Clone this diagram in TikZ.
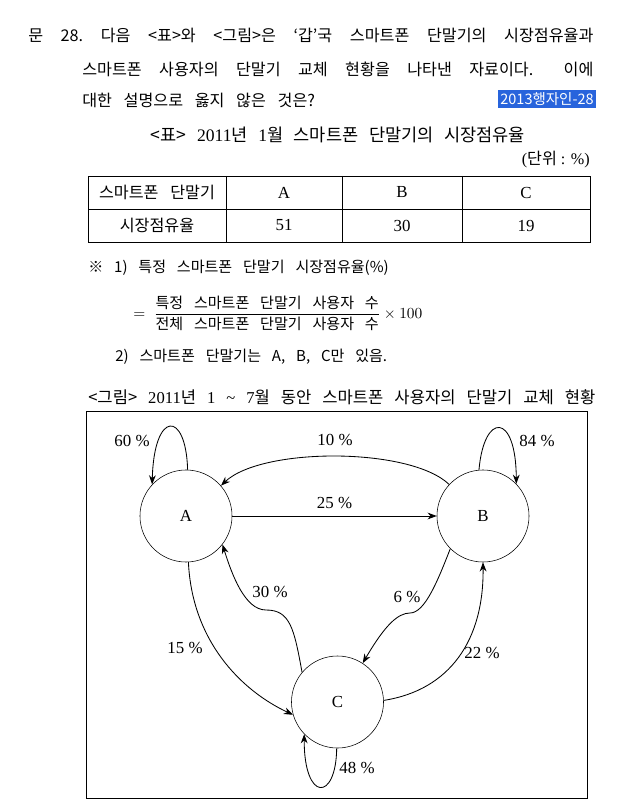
\documentclass[tikz,border=0pt]{standalone}
\usepackage{amsmath}
\usepackage{fontspec}
\setmainfont{Liberation Serif}
\newfontfamily\kr{Noto Sans CJK KR}
\usetikzlibrary{arrows.meta}
\definecolor{selblue}{RGB}{40,100,220}
\newcommand\widesp{\frenchspacing\spaceskip=0.72em plus 2em\relax}
\newcommand\midsp{\frenchspacing\spaceskip=0.5em plus 2em\relax}
\newcommand\ttlsp{\frenchspacing\spaceskip=0.6em plus 1em\relax}

\begin{document}
\begin{tikzpicture}[
  x=0.025cm, y=-0.025cm,
  >={Stealth[length=2.3mm, width=1.7mm]},
  qtext/.style={anchor=west, inner sep=0pt, font=\kr\fontsize{11.5}{13}\selectfont\widesp},
  note/.style={anchor=west, inner sep=0pt, font=\kr\fontsize{10.7}{13}\selectfont\widesp},
  ttl/.style={inner sep=0pt, font=\fontsize{11.8}{13}\selectfont\midsp},
  cell/.style={inner sep=0pt, font=\fontsize{12}{14}\selectfont},
  dev/.style={draw, circle, minimum size=2.3cm, inner sep=0pt, font=\fontsize{12}{14}\selectfont},
  pct/.style={inner sep=0pt, font=\fontsize{12}{14}\selectfont},
  flow/.style={->, line width=0.6pt},
]
\useasboundingbox (0,0) rectangle (624,800);
% question
\node[qtext] (q1) at (28,35) {\makebox[14.125cm][s]{문 28. 다음 <표>와 <그림>은 ‘갑’국 스마트폰 단말기의 시장점유율과}};
\node[qtext] (q2) at (82,69) {\makebox[12.775cm][s]{스마트폰 사용자의 단말기 교체 현황을 나타낸 자료이다.\hspace{0.8em} 이에}};
\node[qtext] (q3) at (82,100) {대한 설명으로 옳지 않은 것은?};
\node[fill=selblue, text=white, inner sep=0pt, minimum width=2.45cm, minimum height=0.43cm,
      font=\kr\fontsize{10.3}{12}\selectfont] (tag) at (547,99) {2013행자인-28};
% table
\node[ttl, font=\fontsize{12.5}{14}\selectfont\ttlsp] (ttab) at (338,135)
  {{\kr <표>} 2011{\kr 년} 1{\kr 월 스마트폰 단말기의 시장점유율}};
\node[ttl, font=\fontsize{11.5}{13}\selectfont, anchor=east] (unit) at (590,160) {({\kr 단위} : \%)};
\draw[line width=0.6pt] (88,176) rectangle (590,242);
\draw[line width=0.6pt] (88,209) -- (590,209);
\foreach \x in {226,342,462}
  \draw[line width=0.6pt] (\x,176) -- (\x,242);
\node[cell, font=\kr\fontsize{11.5}{13}\selectfont\widesp] (h0) at (157,192.5) {스마트폰 단말기};
\node[cell] (hA) at (284,192.5) {A};
\node[cell] (hB) at (402,192.5) {B};
\node[cell] (hC) at (526,192.5) {C};
\node[cell, font=\kr\fontsize{11.5}{13}\selectfont] (r0) at (157,225.5) {시장점유율};
\node[cell] (rA) at (284,225.5) {51};
\node[cell] (rB) at (402,225.5) {30};
\node[cell] (rC) at (526,225.5) {19};
% notes
\node[note] (n1) at (88,268) {※ 1) 특정 스마트폰 단말기 시장점유율(\%)};
\node[note] (n2) at (133,313)
  {$=\;\dfrac{\mbox{\kr\fontsize{10.7}{13}\selectfont\widesp 특정 스마트폰 단말기 사용자 수}}{\mbox{\kr\fontsize{10.7}{13}\selectfont\widesp 전체 스마트폰 단말기 사용자 수}}\times 100$};
\node[note] (n3) at (115,357) {2) 스마트폰 단말기는 A, B, C만 있음.};
\node[ttl, anchor=west] (tfig) at (88,397) {\makebox[12.675cm][s]{{\kr <그림>} 2011{\kr 년} 1 \textasciitilde{} 7{\kr 월 동안 스마트폰 사용자의 단말기 교체 현황}}};
% figure frame
\draw[line width=0.6pt] (86,411) rectangle (587,798);
% devices
\node[dev] (A) at (186,516) {A};
\node[dev] (B) at (483,516) {B};
\node[dev] (C) at (337.5,702) {C};
% flows
\draw[flow] (A.east) -- (B.west) node[pct, midway, above=5pt] {25 \%};
\draw[flow] (B.137) .. controls (410,447) and (262,447) .. (A.41);
\node[pct] (l10) at (335,440) {10 \%};
\draw[flow] (A.88) .. controls (186,410) and (154,410) .. (A.137);
\node[pct] (l60) at (132,441) {60 \%};
\draw[flow] (B.95) .. controls (484,412) and (516,412) .. (B.44);
\node[pct] (l84) at (537,441) {84 \%};
\draw[flow] (A.273) .. controls (192,640) and (240,690) .. (C.196);
\node[pct] (l15) at (185,648) {15 \%};
\draw[flow] (C.140) .. controls (294,628) and (290,610) .. (266,610)
  .. controls (245,610) and (232,575) .. (A.322);
\node[pct] (l30) at (270,592) {30 \%};
\draw[flow] (B.225) .. controls (438,580) and (425,613) .. (410,613)
  .. controls (398,613) and (385,625) .. (C.57);
\node[pct] (l6) at (407,597) {6 \%};
\draw[flow] (C.2) .. controls (450,690) and (484,640) .. (B.270);
\node[pct] (l22) at (482,653) {22 \%};
\draw[flow] (C.269) .. controls (336,802) and (304,802) .. (C.224);
\node[pct] (l48) at (357,768) {48 \%};
\end{tikzpicture}
\end{document}
